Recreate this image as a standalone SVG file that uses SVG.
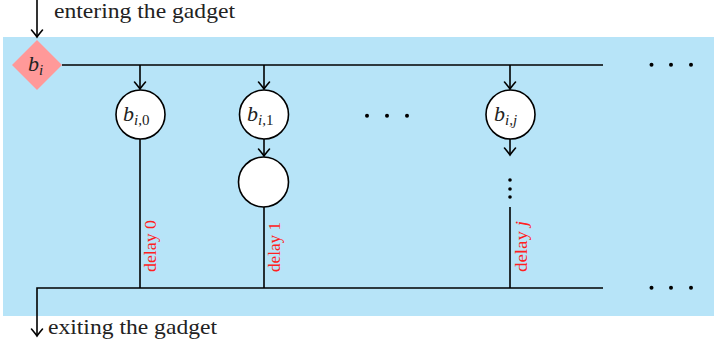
<svg xmlns="http://www.w3.org/2000/svg" width="714" height="345" viewBox="0 0 714 345">
<style>
.ln{stroke:#000;stroke-width:1.6;fill:none}
.ar{stroke:#000;stroke-width:1.6;fill:none;marker-end:url(#arr)}
.node{fill:#fff;stroke:#000;stroke-width:1.6}
.math{font-family:"Liberation Serif",serif;font-size:22px;fill:#222}
.sub{font-size:15px}
.it{font-style:italic}
.lbl{font-family:"Liberation Serif",serif;font-size:21px;fill:#222}
.delay{font-family:"Liberation Serif",serif;font-size:16px;fill:#ff2020}
.dot{fill:#000}
</style>
<defs>
<marker id="arr" markerUnits="userSpaceOnUse" markerWidth="14" markerHeight="14" refX="0" refY="0" viewBox="-8 -7 10 14" orient="auto" overflow="visible">
<path d="M-7,-5.5 Q-2,-1.3 0,0 Q-2,1.3 -7,5.5" fill="none" stroke="#000" stroke-width="1.6" stroke-linecap="round"/>
</marker>
</defs>
<rect x="3" y="37" width="711" height="279" fill="#b7e4f8"/>
<g id="connectors">
<line class="ar" x1="37" y1="0" x2="37" y2="37"/>
<line class="ln" x1="62" y1="65" x2="603" y2="65"/>
<line class="ar" x1="140" y1="65" x2="140" y2="89"/>
<line class="ar" x1="264" y1="65" x2="264" y2="89"/>
<line class="ar" x1="510" y1="65" x2="510" y2="89"/>
<line class="ar" x1="264" y1="139" x2="264" y2="156"/>
<line class="ar" x1="510" y1="139" x2="510" y2="155"/>
<line class="ln" x1="140" y1="139" x2="140" y2="288"/>
<line class="ln" x1="264" y1="207" x2="264" y2="288"/>
<line class="ln" x1="510" y1="207" x2="510" y2="288"/>
<polyline class="ar" points="603,288 37,288 37,336"/>
</g>
<g id="labels">
<text class="lbl" x="54" y="18" textLength="181" lengthAdjust="spacingAndGlyphs">entering the gadget</text>
<text class="lbl" x="48" y="334" textLength="169" lengthAdjust="spacingAndGlyphs">exiting the gadget</text>
<text class="delay" transform="translate(156,272) rotate(-90)" textLength="52" lengthAdjust="spacingAndGlyphs">delay 0</text>
<text class="delay" transform="translate(280,272) rotate(-90)" textLength="50" lengthAdjust="spacingAndGlyphs">delay 1</text>
<text class="delay" transform="translate(527,272) rotate(-90)" textLength="51" lengthAdjust="spacingAndGlyphs">delay <tspan class="it">j</tspan></text>
</g>
<g id="node-bi">
<polygon points="37,40 62,65 37,90 12,65" fill="#ff9999"/>
<text class="math" x="28" y="71"><tspan class="it">b</tspan><tspan class="sub it" dy="4">i</tspan></text>
</g>
<g id="node-bi0">
<circle class="node" cx="140.5" cy="114.5" r="24.5"/>
<text class="math" x="123" y="121"><tspan class="it">b</tspan><tspan class="sub" dy="4"><tspan class="it">i</tspan>,0</tspan></text>
</g>
<g id="node-bi1">
<circle class="node" cx="264" cy="114.5" r="24.5"/>
<text class="math" x="247" y="121"><tspan class="it">b</tspan><tspan class="sub" dy="4"><tspan class="it">i</tspan>,1</tspan></text>
</g>
<g id="node-empty">
<circle class="node" cx="263.5" cy="182" r="25"/>
</g>
<g id="node-bij">
<circle class="node" cx="510.5" cy="114.5" r="24.5"/>
<text class="math" x="494" y="121"><tspan class="it">b</tspan><tspan class="sub it" dy="4">i,j</tspan></text>
</g>
<g id="dots">
<circle class="dot" cx="367" cy="115.7" r="2"/>
<circle class="dot" cx="387" cy="115.7" r="2"/>
<circle class="dot" cx="407" cy="115.7" r="2"/>
<circle class="dot" cx="651.5" cy="64.7" r="2"/>
<circle class="dot" cx="671" cy="64.7" r="2"/>
<circle class="dot" cx="691" cy="64.7" r="2"/>
<circle class="dot" cx="651.5" cy="287.7" r="2"/>
<circle class="dot" cx="671" cy="287.7" r="2"/>
<circle class="dot" cx="691" cy="287.7" r="2"/>
<circle class="dot" cx="510" cy="180" r="1.8"/>
<circle class="dot" cx="510" cy="189" r="1.8"/>
<circle class="dot" cx="510" cy="197" r="1.8"/>
</g>
</svg>
